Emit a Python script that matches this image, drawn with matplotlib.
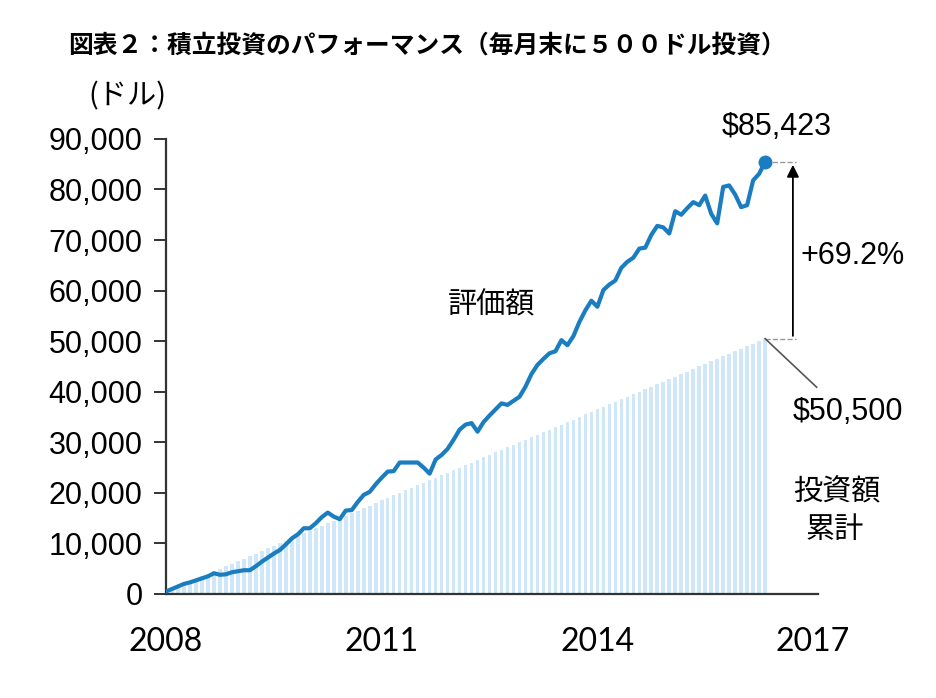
import numpy as np
import matplotlib
matplotlib.use("Agg")
import matplotlib.pyplot as plt

plt.rcParams['font.family'] = ['Noto Sans CJK JP', 'DejaVu Sans']

# 月末ごとのデータ (2008年1月〜2016年5月, 101か月)
start_year = 2008
monthly_deposit = [500] * 101

# 評価額
value = [
    500, 1000, 1500, 2000, 2300, 2700, 3100, 3500, 4100, 3800,
    3900, 4300, 4500, 4700, 4700, 5500, 6400, 7200, 8000, 8700,
    9800, 11000, 11800, 13000, 13000, 14000, 15200, 16100, 15300, 14800,
    16500, 16600, 18200, 19600, 20200, 21700, 23000, 24200, 24300, 26000,
    26000, 26000, 26000, 25000, 23800, 26600, 27500, 28700, 30500, 32500,
    33500, 33800, 32100, 34000, 35300, 36500, 37700, 37400, 38200, 39000,
    41000, 43500, 45300, 46500, 47600, 48000, 50200, 49200, 51000, 53800,
    56100, 58000, 56800, 60100, 61200, 62000, 64500, 65700, 66500, 68300,
    68500, 71000, 72800, 72500, 71300, 75700, 75000, 76300, 77500, 76900,
    78800, 75200, 73300, 80500, 80800, 79000, 76500, 76900, 81800, 83100,
    85423,
]

year_ticks = [2008, 2011, 2014, 2017]
y_ticks = [0, 10000, 20000, 30000, 40000, 50000, 60000, 70000, 80000, 90000]

invested = np.cumsum(monthly_deposit)
x = start_year + np.arange(len(value)) / 12

line_color = '#1a7dc0'
bar_color = '#cfe7f8'
num_font = 'Liberation Sans'

fig = plt.figure(figsize=(9.36, 6.98), dpi=100)
ax = fig.add_axes([0.1774, 0.149, 0.6966, 0.652])

ax.bar(x, invested, width=0.6 / 12, color=bar_color, zorder=1)
ax.plot(x, value, color=line_color, lw=3, zorder=3)
ax.plot(x[-1], value[-1], 'o', color=line_color, ms=9, zorder=4)

ax.set_xlim(2008, 2017.07)
ax.set_ylim(0, 90000)

ax.set_yticks(y_ticks)
ax.set_yticklabels([f'{v:,}' for v in y_ticks], fontsize=22, family=num_font)
ax.set_xticks(year_ticks)
ax.set_xticklabels([str(y) for y in year_ticks], fontsize=23, family='Lato')

ax.tick_params(axis='y', length=9, width=1.4, color='#333333', pad=8)
ax.tick_params(axis='x', length=0, pad=24)

for s in ['top', 'right']:
    ax.spines[s].set_visible(False)
for s in ['left', 'bottom']:
    ax.spines[s].set_linewidth(1.6)
    ax.spines[s].set_color('#333333')

# 注記
x_end = x[-1]
x_arrow = 2016.72
ax.plot([x_end, x_arrow + 0.05], [value[-1], value[-1]], ls='--', color='#999999', lw=1)
ax.plot([x_end, x_arrow + 0.05], [invested[-1], invested[-1]], ls='--', color='#999999', lw=1)
ax.annotate('', xy=(x_arrow, value[-1]), xytext=(x_arrow, invested[-1]),
            arrowprops=dict(arrowstyle='-|>', color='black', lw=1.3, mutation_scale=18))
ax.plot([x_end, 2017.05], [invested[-1], 40900], color='#555555', lw=1.2, clip_on=False)

ax.text(2016.5, 92300, f'${value[-1]:,}', fontsize=22, family=num_font, ha='center', va='center',
        clip_on=False)
ax.text(2017.55, 66800, '+69.2%', fontsize=22, family=num_font, ha='center', va='center')
ax.text(2017.49, 36000, f'${invested[-1]:,}', fontsize=22, family=num_font, ha='center', va='center')
ax.text(2012.53, 57100, '評価額', fontsize=21, ha='center', va='center')
ax.text(2017.33, 20150, '投資額', fontsize=21, ha='center', va='center', clip_on=False)
ax.text(2017.3, 12650, '累計', fontsize=21, ha='center', va='center', clip_on=False)

fig.text(68 / 936, 1 - 46 / 698, '図表２：積立投資のパフォーマンス（毎月末に５００ドル投資）',
         fontsize=17.8, fontweight='bold', ha='left', va='center')
fig.text(88 / 936, 1 - 96 / 698, '(ドル)', fontsize=21, ha='left', va='center')

fig.savefig('out.png', dpi=100)
